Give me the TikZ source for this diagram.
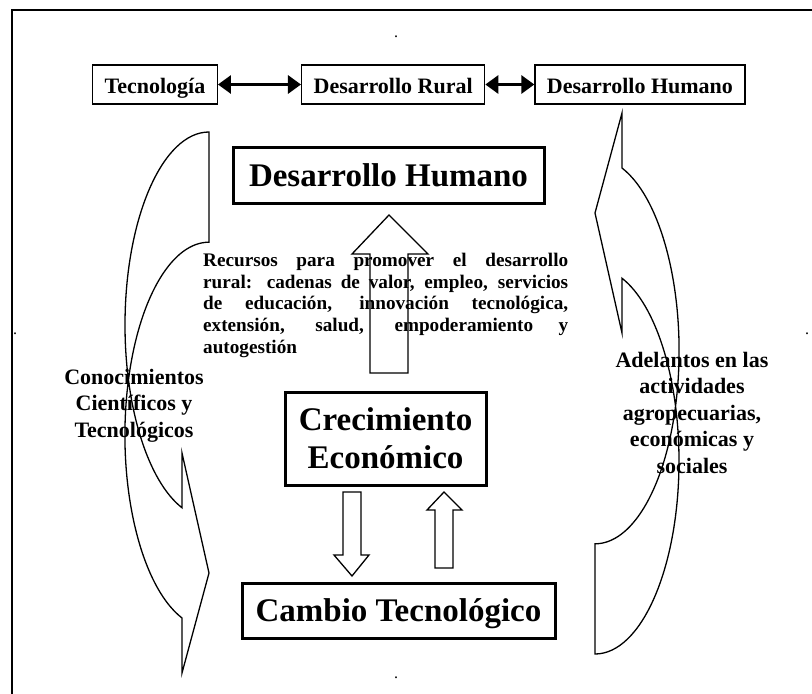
\documentclass[tikz,border=0pt]{standalone}
\usepackage{fontspec}
\setmainfont{Liberation Serif}
\usetikzlibrary{arrows.meta,positioning}
\hyphenpenalty=10000

\tikzset{
  topbox/.style={draw, line width=1.3pt, inner xsep=12pt, minimum height=39pt,
    text height=19pt, text depth=2pt,
    font=\fontsize{22}{26}\selectfont\bfseries},
  bigbox/.style={draw, line width=3pt, inner sep=0pt, align=center,
    font=\fontsize{33}{38}\selectfont\bfseries},
  sidetext/.style={align=center, inner sep=0pt,
    font=\fontsize{22}{26.5}\selectfont\bfseries},
  twoway/.style={line width=3pt,
    {Triangle[length=13pt,width=18pt]}-{Triangle[length=13pt,width=18pt]}},
  hollow/.style={line width=1.3pt, line join=miter},
  dotmark/.style={inner sep=0pt, font=\fontsize{16}{16}\selectfont}
}

\begin{document}
\begin{tikzpicture}[x=1pt, y=-1pt]
 \useasboundingbox (0,0) rectangle (812,694);
 % frame
 \draw[line width=2.5pt] (12,694) -- (12,10) -- (812,10);
 \node[dotmark] (dtop) at (396,37) {.};
 \node[dotmark] (dleft) at (15,334) {.};
 \node[dotmark] (dright) at (807,334) {.};
 \node[dotmark] (dbot) at (396,678) {.};

 % top row
 \node[topbox] (tecno) at (155,84.5) {Tecnología};
 \node[topbox, right=83pt of tecno] (rural) {Desarrollo Rural};
 \node[topbox, right=49pt of rural] (humano) {Desarrollo Humano};
 \draw[twoway] (tecno) -- (rural);
 \draw[twoway] (rural) -- (humano);

 % main boxes
 \node[bigbox, minimum width=311pt, minimum height=56pt] (dh) at (388.5,175) {Desarrollo Humano};
 \node[bigbox, minimum width=201pt, minimum height=93pt] (crec) at (385.5,438.5) {Crecimiento\\Económico};
 \node[bigbox, minimum width=313pt, minimum height=55pt, text depth=0pt] (cambio) at (398.5,610.5) {Cambio Tecnológico};

 % block arrows
 \draw[hollow] (370,373) -- (370,254) -- (352,254) -- (389,215) -- (428,254) -- (408,254) -- (408,373) -- cycle;
 \draw[hollow] (343,492) -- (343,555) -- (334,555) -- (352,576) -- (369,555) -- (361,555) -- (361,492) -- cycle;
 \draw[hollow] (435,568) -- (435,510) -- (427,510) -- (444,492) -- (462,510) -- (453,510) -- (453,568) -- cycle;

 % bent arrows
 \draw[hollow] (209,132) arc[start angle=-90, end angle=-251.3, x radius=84, y radius=193]
   -- (182,453) -- (209,573) -- (182,673) -- (182,618)
   arc[start angle=-251.3, end angle=-90, x radius=84, y radius=193] -- cycle;
 \begin{scope}[rotate around={180:(402,393)}]
 \draw[hollow] (209,132) arc[start angle=-90, end angle=-251.3, x radius=84, y radius=193]
   -- (182,453) -- (209,573) -- (182,673) -- (182,618)
   arc[start angle=-251.3, end angle=-90, x radius=84, y radius=193] -- cycle;
 \end{scope}

 % texts
 \node[anchor=north west, text width=365pt, align=justify, inner sep=0pt,
   font=\fontsize{19.2}{21.7}\selectfont\bfseries] (recursos) at (203,253)
   {\tolerance=10000 Recursos para promover el desarrollo\linebreak
    rural: cadenas de valor, empleo, servicios\linebreak
    de educación, innovación tecnológica,\linebreak
    extensión, salud, empoderamiento y\linebreak
    autogestión};
 \node[sidetext, anchor=north] (conoc) at (134,369) {Conocimientos\\Científicos y\\Tecnológicos};
 \node[sidetext, anchor=north] (adel) at (692,352) {Adelantos en las\\actividades\\agropecuarias,\\económicas y\\sociales};
\end{tikzpicture}
\end{document}
